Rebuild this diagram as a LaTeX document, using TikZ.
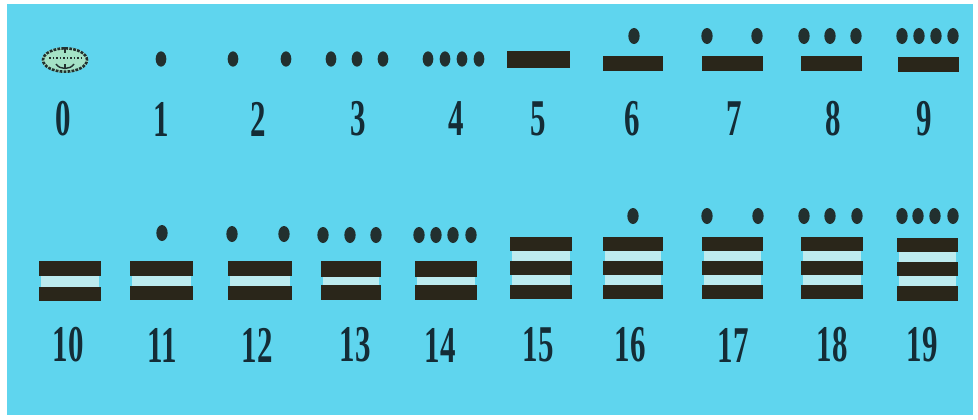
\documentclass[tikz,border=0pt]{standalone}
\usepackage{fontspec}
\setmainfont{Liberation Serif}
\usepackage{xcolor}
\usepackage{tikz}
\definecolor{MayaSky}{HTML}{5FD5EE}
\definecolor{MayaGap}{HTML}{BDEBEF}
\definecolor{MayaBar}{HTML}{2A261A}
\definecolor{MayaDot}{HTML}{22302F}
\definecolor{MayaInk}{HTML}{142C36}
\definecolor{MayaShell}{HTML}{A4E2C6}

\begin{document}
\begin{tikzpicture}[x=0.03cm,y=-0.03cm,
  numeral/.style={inner sep=0pt,xscale=0.6,text=MayaInk,font=\fontsize{44}{44}\selectfont\bfseries}]
\path[use as bounding box] (0,0) rectangle (978,419);
\fill[white] (0,0) rectangle (978,419);
\fill[MayaSky] (7,4) rectangle (973,415);
% top row: 0 to 9
\fill[MayaShell] (65,60) ellipse (0.7cm and 0.38cm);
\draw[MayaDot,line width=2.2pt,dash pattern=on 2.4pt off 1pt] (65,60) ellipse (0.66cm and 0.35cm);
\draw[MayaDot,line width=1.2pt] (65,47) -- (65,53);
\draw[MayaDot,line width=1.1pt,dash pattern=on 1.5pt off 1.5pt] (49,58) -- (81,58);
\draw[MayaDot,line width=1.2pt] (56,64) .. controls (60,70) and (70,70) .. (74,64);
\draw[MayaDot,line width=1.2pt] (65,64) -- (65,69);
\fill[MayaDot] (161,59) ellipse (0.16cm and 0.23cm);
\fill[MayaDot] (233,59) ellipse (0.16cm and 0.23cm);
\fill[MayaDot] (286,59) ellipse (0.16cm and 0.23cm);
\fill[MayaDot] (331,59) ellipse (0.16cm and 0.23cm);
\fill[MayaDot] (357,59) ellipse (0.16cm and 0.23cm);
\fill[MayaDot] (383,59) ellipse (0.16cm and 0.23cm);
\fill[MayaDot] (428,59) ellipse (0.16cm and 0.23cm);
\fill[MayaDot] (445,59) ellipse (0.16cm and 0.23cm);
\fill[MayaDot] (462,59) ellipse (0.16cm and 0.23cm);
\fill[MayaDot] (479,59) ellipse (0.16cm and 0.23cm);
\fill[MayaBar] (507,51) rectangle (570,68);
\fill[MayaDot] (634,36) ellipse (0.17cm and 0.24cm);
\fill[MayaBar] (603,56) rectangle (663,71);
\fill[MayaDot] (707,36) ellipse (0.17cm and 0.24cm);
\fill[MayaDot] (757,36) ellipse (0.17cm and 0.24cm);
\fill[MayaBar] (702,56) rectangle (763,71);
\fill[MayaDot] (804,36) ellipse (0.17cm and 0.24cm);
\fill[MayaDot] (830,36) ellipse (0.17cm and 0.24cm);
\fill[MayaDot] (856,36) ellipse (0.17cm and 0.24cm);
\fill[MayaBar] (801,56) rectangle (862,71);
\fill[MayaDot] (902,36) ellipse (0.17cm and 0.24cm);
\fill[MayaDot] (919,36) ellipse (0.17cm and 0.24cm);
\fill[MayaDot] (936,36) ellipse (0.17cm and 0.24cm);
\fill[MayaDot] (953,36) ellipse (0.17cm and 0.24cm);
\fill[MayaBar] (898,57) rectangle (959,72);
\node[numeral] (n0) at (63,119) {0};
\node[numeral] (n1) at (161,119) {1};
\node[numeral] (n2) at (258,119) {2};
\node[numeral] (n3) at (358,119) {3};
\node[numeral] (n4) at (456,119) {4};
\node[numeral] (n5) at (538,119) {5};
\node[numeral] (n6) at (632,119) {6};
\node[numeral] (n7) at (734,119) {7};
\node[numeral] (n8) at (833,119) {8};
\node[numeral] (n9) at (924,119) {9};
% bottom row: 10 to 19
\fill[MayaGap] (41,276) rectangle (99,287);
\fill[MayaBar] (39,261) rectangle (101,276);
\fill[MayaBar] (39,287) rectangle (101,301);
\fill[MayaDot] (162,233) ellipse (0.17cm and 0.24cm);
\fill[MayaGap] (132,276) rectangle (191,286);
\fill[MayaBar] (130,261) rectangle (193,276);
\fill[MayaBar] (130,286) rectangle (193,300);
\fill[MayaDot] (232,234) ellipse (0.17cm and 0.24cm);
\fill[MayaDot] (284,234) ellipse (0.17cm and 0.24cm);
\fill[MayaGap] (230,276) rectangle (290,286);
\fill[MayaBar] (228,261) rectangle (292,276);
\fill[MayaBar] (228,286) rectangle (292,300);
\fill[MayaDot] (323,235) ellipse (0.17cm and 0.24cm);
\fill[MayaDot] (350,235) ellipse (0.17cm and 0.24cm);
\fill[MayaDot] (376,235) ellipse (0.17cm and 0.24cm);
\fill[MayaGap] (323,277) rectangle (379,285);
\fill[MayaBar] (321,261) rectangle (381,277);
\fill[MayaBar] (321,285) rectangle (381,300);
\fill[MayaDot] (419,235) ellipse (0.17cm and 0.24cm);
\fill[MayaDot] (436,235) ellipse (0.17cm and 0.24cm);
\fill[MayaDot] (453,235) ellipse (0.17cm and 0.24cm);
\fill[MayaDot] (471,235) ellipse (0.17cm and 0.24cm);
\fill[MayaGap] (417,277) rectangle (475,285);
\fill[MayaBar] (415,261) rectangle (477,277);
\fill[MayaBar] (415,285) rectangle (477,300);
\fill[MayaGap] (512,251) rectangle (570,285);
\fill[MayaBar] (510,237) rectangle (572,251);
\fill[MayaBar] (510,261) rectangle (572,275);
\fill[MayaBar] (510,285) rectangle (572,299);
\fill[MayaDot] (633,216) ellipse (0.17cm and 0.24cm);
\fill[MayaGap] (605,251) rectangle (661,285);
\fill[MayaBar] (603,237) rectangle (663,251);
\fill[MayaBar] (603,261) rectangle (663,275);
\fill[MayaBar] (603,285) rectangle (663,299);
\fill[MayaDot] (707,216) ellipse (0.17cm and 0.24cm);
\fill[MayaDot] (758,216) ellipse (0.17cm and 0.24cm);
\fill[MayaGap] (704,251) rectangle (761,285);
\fill[MayaBar] (702,237) rectangle (763,251);
\fill[MayaBar] (702,261) rectangle (763,275);
\fill[MayaBar] (702,285) rectangle (763,299);
\fill[MayaDot] (804,216) ellipse (0.17cm and 0.24cm);
\fill[MayaDot] (830,216) ellipse (0.17cm and 0.24cm);
\fill[MayaDot] (857,216) ellipse (0.17cm and 0.24cm);
\fill[MayaGap] (803,251) rectangle (861,285);
\fill[MayaBar] (801,237) rectangle (863,251);
\fill[MayaBar] (801,261) rectangle (863,275);
\fill[MayaBar] (801,285) rectangle (863,299);
\fill[MayaDot] (902,216) ellipse (0.17cm and 0.24cm);
\fill[MayaDot] (918,216) ellipse (0.17cm and 0.24cm);
\fill[MayaDot] (935,216) ellipse (0.17cm and 0.24cm);
\fill[MayaDot] (953,216) ellipse (0.17cm and 0.24cm);
\fill[MayaGap] (899,252) rectangle (956,286);
\fill[MayaBar] (897,238) rectangle (958,252);
\fill[MayaBar] (897,262) rectangle (958,276);
\fill[MayaBar] (897,286) rectangle (958,301);
\node[numeral] (n10) at (68,345) {10};
\node[numeral] (n11) at (162,345) {11};
\node[numeral] (n12) at (257,345) {12};
\node[numeral] (n13) at (355,345) {13};
\node[numeral] (n14) at (440,345) {14};
\node[numeral] (n15) at (538,345) {15};
\node[numeral] (n16) at (630,345) {16};
\node[numeral] (n17) at (733,345) {17};
\node[numeral] (n18) at (832,345) {18};
\node[numeral] (n19) at (922,345) {19};
\end{tikzpicture}
\end{document}
